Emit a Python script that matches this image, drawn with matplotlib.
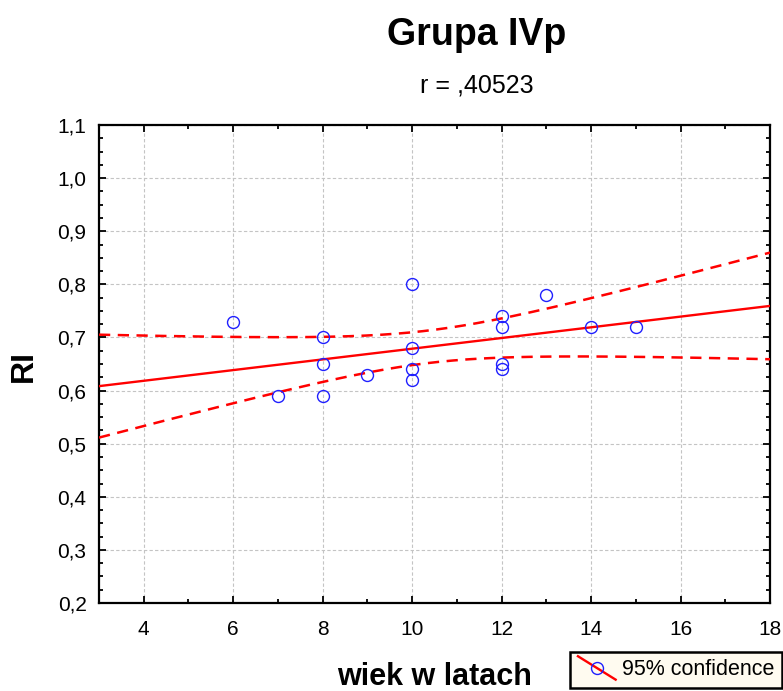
import numpy as np
import matplotlib
matplotlib.use("Agg")
import matplotlib.pyplot as plt
from matplotlib.lines import Line2D
from matplotlib.legend_handler import HandlerBase
from matplotlib.ticker import FixedLocator, MultipleLocator, FuncFormatter

plt.rcParams['font.family'] = ['Liberation Sans', 'DejaVu Sans']

# age (years) and RI values
age = [6, 7, 8, 8, 8, 9, 10, 10, 10, 10, 12, 12, 12, 12, 13, 14, 15]
ri = [0.73, 0.59, 0.70, 0.65, 0.59, 0.63, 0.80, 0.68, 0.64, 0.62,
      0.74, 0.72, 0.65, 0.64, 0.78, 0.72, 0.72]

title = "Grupa IVp"
subtitle = "r = ,40523"
xlabel = "wiek w latach"
ylabel = "RI"
legend_label = "95% confidence"
x_ticks = [4, 6, 8, 10, 12, 14, 16, 18]
y_ticks = [0.2, 0.3, 0.4, 0.5, 0.6, 0.7, 0.8, 0.9, 1.0, 1.1]

# Student t quantile (0.975) for n - 2 = 15 degrees of freedom
T_CRIT = 2.1314

x = np.asarray(age, dtype=float)
y = np.asarray(ri, dtype=float)
n = len(x)
slope, intercept = np.polyfit(x, y, 1)
resid = y - (intercept + slope * x)
s = np.sqrt(np.sum(resid ** 2) / (n - 2))
sxx = np.sum((x - x.mean()) ** 2)

xs = np.linspace(3, 18, 200)
fit = intercept + slope * xs
half = T_CRIT * s * np.sqrt(1.0 / n + (xs - x.mean()) ** 2 / sxx)

W, H = 783, 691
fig = plt.figure(figsize=(W / 100, H / 100), dpi=100)
ax = fig.add_axes([99 / W, 1 - 603 / H, (770 - 99) / W, (603 - 125) / H])

red = '#ff0000'
blue = '#2020ff'
ax.plot(xs, fit, color=red, lw=1.7, zorder=3)
ax.plot(xs, fit + half, color=red, lw=1.8, dashes=(4.5, 3), zorder=3)
ax.plot(xs, fit - half, color=red, lw=1.8, dashes=(4.5, 3), zorder=3)
ax.plot(x, y, linestyle='none', marker='o', markersize=8.6,
        markerfacecolor='none', markeredgecolor=blue, markeredgewidth=1.0,
        zorder=4)

ax.set_xlim(3, 18)
ax.set_ylim(0.2, 1.1)
ax.xaxis.set_major_locator(FixedLocator(x_ticks))
ax.xaxis.set_minor_locator(MultipleLocator(1))
ax.yaxis.set_major_locator(FixedLocator(y_ticks))
ax.yaxis.set_minor_locator(MultipleLocator(0.025))
ax.yaxis.set_major_formatter(FuncFormatter(lambda v, p: f"{v:.1f}".replace('.', ',')))
ax.xaxis.set_major_formatter(FuncFormatter(lambda v, p: f"{v:.0f}"))

ax.tick_params(which='both', direction='in', top=True, right=True,
               width=1.3, colors='black', labelsize=15)
ax.tick_params(which='major', length=5)
ax.tick_params(which='minor', length=3)
ax.tick_params(axis='x', which='major', pad=12)
ax.tick_params(axis='y', which='major', pad=9)

ax.grid(True, which='major', color='#c4c4c4', linestyle=(0, (3, 2)), lw=0.8)
ax.set_axisbelow(True)
for sp in ax.spines.values():
    sp.set_linewidth(1.6)
    sp.set_color('black')

fig.text(477 / W, 1 - 45 / H, title, ha='center', va='baseline',
         fontsize=27, fontweight='bold')
fig.text(477 / W, 1 - 93 / H, subtitle, ha='center', va='baseline',
         fontsize=18)
fig.text(434.5 / W, 1 - 685 / H, xlabel, ha='center', va='baseline',
         fontsize=22, fontweight='bold')
fig.text(23.5 / W, 1 - 366 / H, ylabel, ha='center', va='center',
         rotation=90, fontsize=23, fontweight='bold')


class DiagonalHandler(HandlerBase):
    def create_artists(self, legend, orig_handle, xdescent, ydescent,
                       width, height, fontsize, trans):
        x0, x1 = -xdescent, -xdescent + width
        y0, y1 = -ydescent - 3, -ydescent + height + 3
        line = Line2D([x0, x1], [y1, y0], color=red, lw=1.7, transform=trans)
        mark = Line2D([(x0 + x1) / 2], [(y0 + y1) / 2], marker='o',
                      markersize=8.6, markerfacecolor='none',
                      markeredgecolor=blue, markeredgewidth=1.0,
                      transform=trans)
        return [line, mark]


proxy = Line2D([], [], color=red)
leg = fig.legend([proxy], [legend_label], loc='lower right',
                 bbox_to_anchor=(782 / W, 3 / H), frameon=True,
                 fancybox=False, fontsize=15.5, handlelength=1.75,
                 handletextpad=0.3, borderpad=0.35, borderaxespad=0,
                 handler_map={Line2D: DiagonalHandler()})
frame = leg.get_frame()
frame.set_facecolor('#fffbf0')
frame.set_edgecolor('black')
frame.set_linewidth(1.8)
frame.set_alpha(1)

fig.savefig("out.png", dpi=100)
